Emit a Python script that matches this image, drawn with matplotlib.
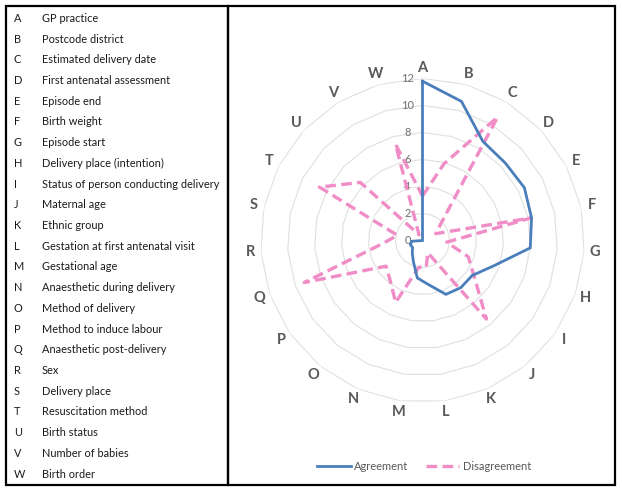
import numpy as np
import matplotlib
matplotlib.use('Agg')
import matplotlib.pyplot as plt
from matplotlib.lines import Line2D
from matplotlib.patches import Rectangle
from matplotlib.transforms import offset_copy

letters = list("ABCDEFGHIJKLMNOPQRSTUVW")
names = ["GP practice", "Postcode district", "Estimated delivery date",
         "First antenatal assessment", "Episode end", "Birth weight",
         "Episode start", "Delivery place (intention)",
         "Status of person conducting delivery", "Maternal age",
         "Ethnic group", "Gestation at first antenatal visit",
         "Gestational age", "Anaesthetic during delivery",
         "Method of delivery", "Method to induce labour",
         "Anaesthetic post-delivery", "Sex", "Delivery place",
         "Resuscitation method", "Birth status", "Number of babies",
         "Birth order"]
agreement = [11.8, 10.7, 8.6, 8.4, 8.5, 8.25, 8.0, 5.6, 4.5, 4.5, 4.35,
             3.3, 2.8, 1.7, 1.2, 0.9, 0.95, 0.8, 0, 0, 0, 0, 0]
disagreement = [3.3, 5.9, 10.7, 1.9, 1.1, 8.2, 1.8, 3.6, 4.7, 7.5, 1.0,
                2.0, 2.0, 5.0, 3.8, 3.3, 9.3, 2.9, 1.9, 8.6, 6.3, 0.5, 7.4]
rticks = [0, 2, 4, 6, 8, 10, 12]

W, H = 622, 493
fig = plt.figure(figsize=(W / 100, H / 100), dpi=100)
fig.patch.set_facecolor('white')


def fx(x):
    return x / W


def fy(y):
    return 1 - y / H


FONT = 'Lato'
BLUE = '#4a7ebb'
PINK = '#f08cc6'
GRAY = '#595959'

# left list
y0, dy = 18.3, 20.72
for i, (l, nm) in enumerate(zip(letters, names)):
    yy = y0 + i * dy
    fig.text(fx(14), fy(yy), l, fontsize=7.9, family=FONT, color='#1a1a1a',
             va='center', ha='left')
    fig.text(fx(42), fy(yy), nm, fontsize=7.9, family=FONT, color='#1a1a1a',
             va='center', ha='left')

# radar axes
cx, cy, R = 422.5, 240.5, 162.0
ax = fig.add_axes([fx(cx - R), fy(cy + R), 2 * R / W, 2 * R / H],
                  projection='polar')
n = len(letters)
theta = np.linspace(0, 2 * np.pi, n, endpoint=False)
ax.set_theta_zero_location('N')
ax.set_theta_direction(-1)
ax.set_ylim(0, 12)
ax.grid(False)
ax.spines['polar'].set_visible(False)
ax.set_xticks([])
ax.set_yticks([])
ax.patch.set_alpha(0)

tc = np.append(theta, theta[0])
for r in rticks[1:]:
    ax.plot(tc, [r] * (n + 1), color='#e0e0e0', lw=0.8, zorder=1)

tr = offset_copy(ax.transData, fig=fig, x=-15, y=0, units='dots')
for r in rticks:
    ax.text(0, r, str(r), transform=tr, ha='center', va='center',
            fontsize=8, family=FONT, color='#6f6f6f', zorder=2)

for t, l in zip(theta, letters):
    ax.text(t, 12.8, l, ha='center', va='center', fontsize=10.5,
            family=FONT, fontweight='bold', color=GRAY, clip_on=False)

ag = np.append(agreement, agreement[0])
dg = np.append(disagreement, disagreement[0])
ax.plot(tc, ag, color=BLUE, lw=2.0, zorder=4, solid_joinstyle='miter')
ax.plot(tc, dg, color=PINK, lw=2.4, ls=(0, (3.2, 1.6)), zorder=3)

handles = [Line2D([], [], color=BLUE, lw=2.0),
           Line2D([], [], color=PINK, lw=2.4, ls=(0, (3.2, 1.6)))]
leg = fig.legend(handles, ['Agreement', 'Disagreement'], ncol=2,
                 loc='center', bbox_to_anchor=(fx(424), fy(466)),
                 frameon=False, handlelength=3.0, columnspacing=1.6,
                 handletextpad=0.3, prop={'family': FONT, 'size': 8})
for txt in leg.get_texts():
    txt.set_color(GRAY)

# frames
fig.add_artist(Rectangle((fx(6), fy(485)), (228 - 6) / W, (485 - 6) / H,
                         transform=fig.transFigure, fill=False,
                         ec='black', lw=1.6))
fig.add_artist(Rectangle((fx(228), fy(485)), (615 - 228) / W, (485 - 6) / H,
                         transform=fig.transFigure, fill=False,
                         ec='black', lw=1.6))

fig.savefig('out.png', dpi=100)
